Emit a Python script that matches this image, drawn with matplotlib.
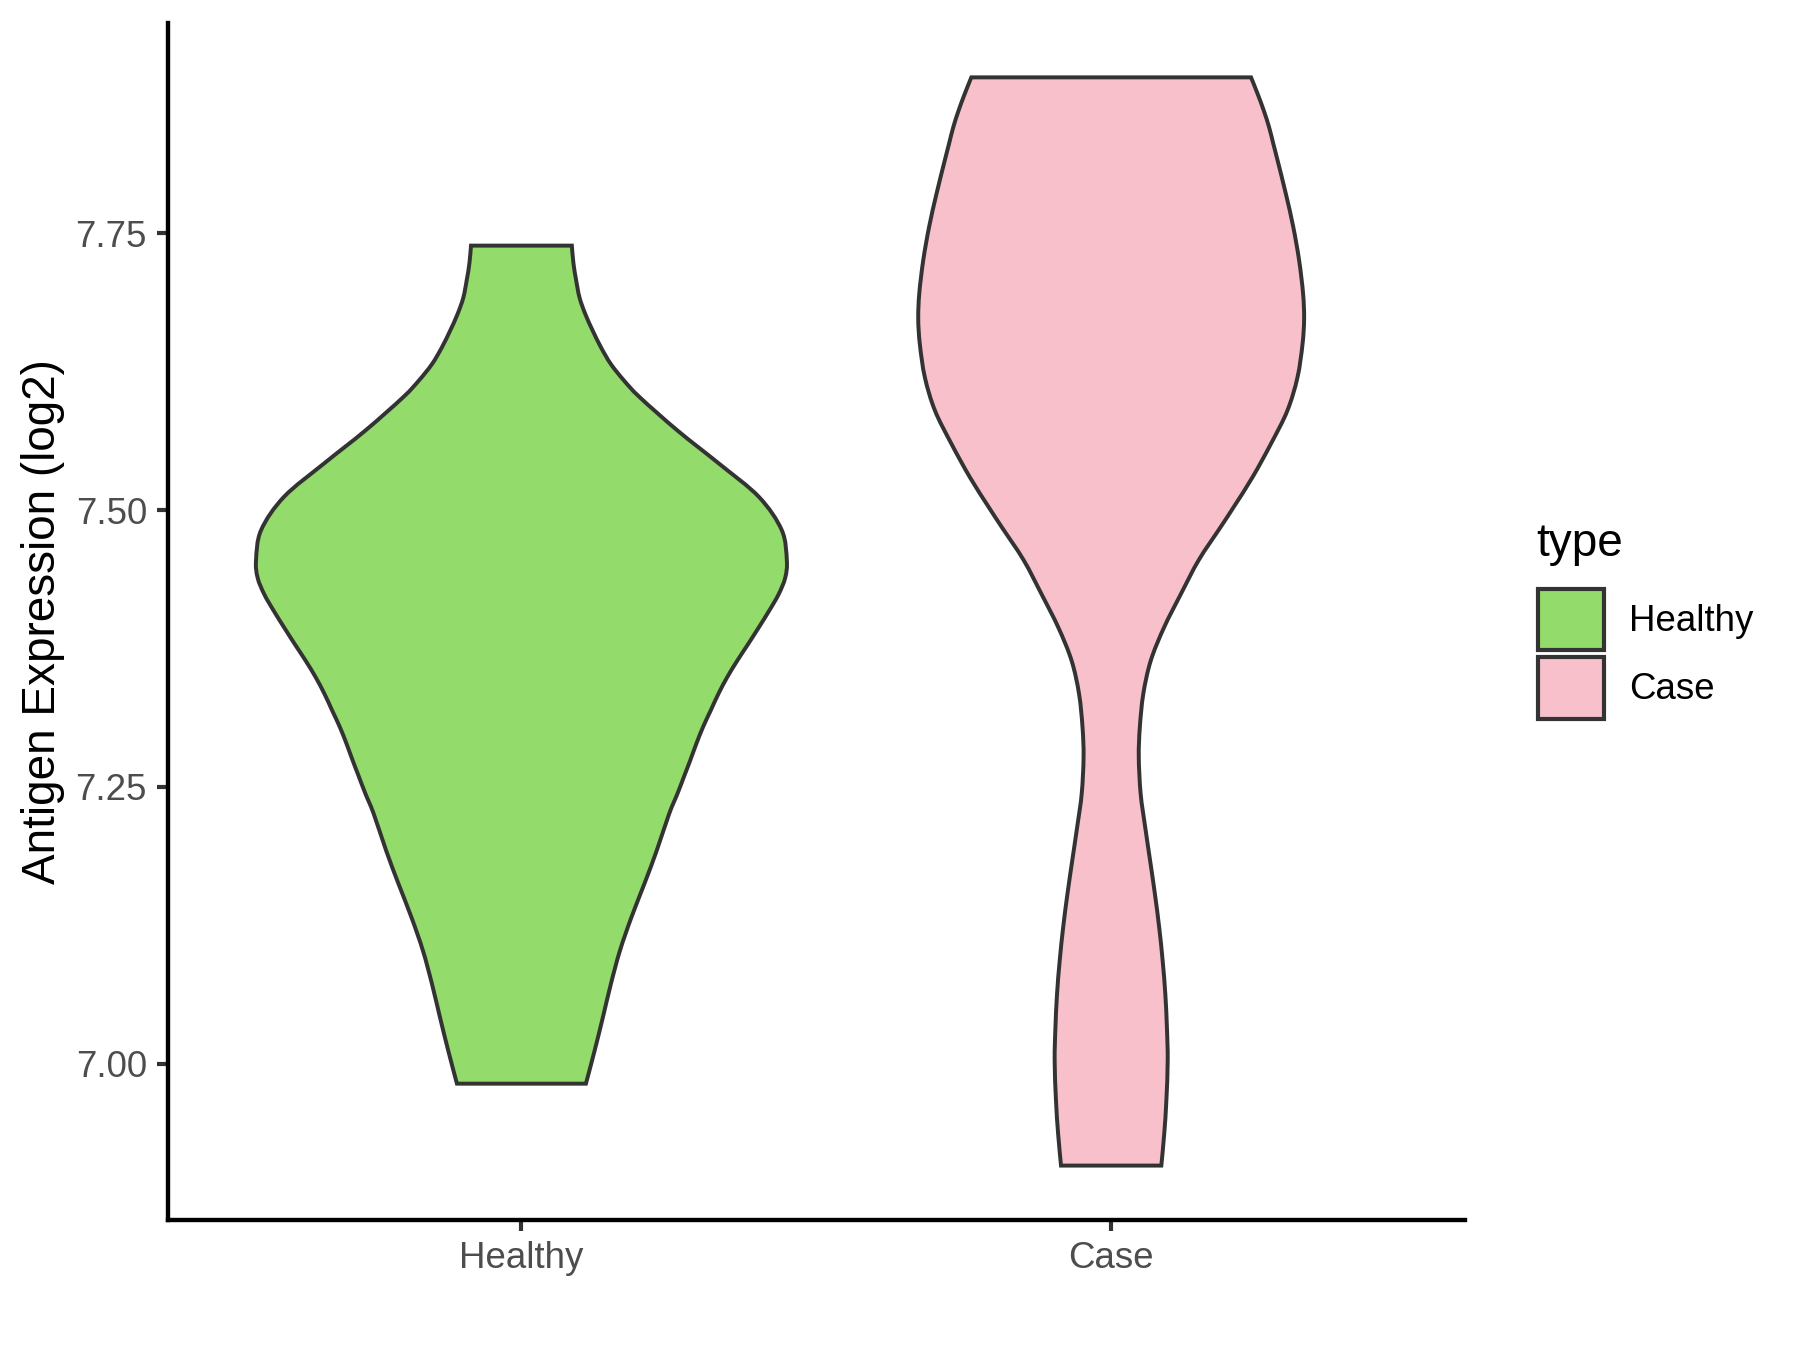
import numpy as np
import matplotlib
matplotlib.use("Agg")
import matplotlib.pyplot as plt
from matplotlib.patches import Patch, PathPatch
from matplotlib.path import Path

plt.rcParams["font.family"] = ["Liberation Sans", "DejaVu Sans"]

# Groups and fills
groups = ["Healthy", "Case"]
fills = ["#93DB6A", "#F7C0CB"]

# Violin density profiles (value, relative density)
healthy_y = [7.739, 7.723, 7.708, 7.692, 7.677, 7.662, 7.647, 7.632, 7.617, 7.602,
             7.572, 7.542, 7.512, 7.482, 7.455, 7.439, 7.424, 7.409, 7.394, 7.379,
             7.364, 7.349, 7.334, 7.319, 7.304, 7.289, 7.274, 7.259, 7.244, 7.226,
             7.192, 7.163, 7.132, 7.102, 7.072, 7.042, 7.012, 6.982]
healthy_dens = [0.190, 0.196, 0.206, 0.219, 0.241, 0.269, 0.300, 0.337, 0.387, 0.446,
                0.588, 0.745, 0.895, 0.981, 1.000, 0.994, 0.969, 0.933, 0.894, 0.854,
                0.813, 0.775, 0.742, 0.713, 0.684, 0.659, 0.636, 0.612, 0.588, 0.557,
                0.509, 0.464, 0.414, 0.371, 0.337, 0.307, 0.276, 0.243]

case_y = [7.891, 7.876, 7.861, 7.846, 7.831, 7.816, 7.786, 7.756, 7.726, 7.696,
          7.673, 7.650, 7.620, 7.590, 7.560, 7.530, 7.503, 7.485, 7.455, 7.424,
          7.394, 7.364, 7.334, 7.304, 7.277, 7.244, 7.214, 7.183, 7.153, 7.123,
          7.093, 7.063, 7.033, 7.003, 6.967, 6.937, 6.908]
case_dens = [0.527, 0.552, 0.575, 0.595, 0.611, 0.627, 0.658, 0.686, 0.708, 0.723,
             0.727, 0.721, 0.702, 0.664, 0.602, 0.533, 0.462, 0.413, 0.330, 0.262,
             0.199, 0.149, 0.121, 0.108, 0.104, 0.111, 0.128, 0.147, 0.165, 0.181,
             0.194, 0.204, 0.210, 0.213, 0.208, 0.200, 0.189]

y_ticks = [7.00, 7.25, 7.50, 7.75]

profiles = [(healthy_y, healthy_dens), (case_y, case_dens)]


# Smooth outline through the read points (Catmull-Rom as cubic beziers)
def smooth_segments(pts):
  verts = []
  n = len(pts)
  for i in range(n - 1):
    p0 = pts[max(i - 1, 0)]
    p1 = pts[i]
    p2 = pts[i + 1]
    p3 = pts[min(i + 2, n - 1)]
    c1 = p1 + (p2 - p0) / 6.0
    c2 = p2 - (p3 - p1) / 6.0
    verts.extend([c1, c2, p2])
  return verts


fig = plt.figure(figsize=(6, 4.5), dpi=300)
ax = fig.add_axes([0.0931, 0.0963, 0.7208, 0.8867])

# Draw violins, max half width 0.45 like ggplot's width 0.9
for i, (ys, ds) in enumerate(profiles):
  ys = np.array(ys)
  hw = np.array(ds) * 0.45
  pos = i + 1
  left = np.column_stack([pos - hw, ys])
  right = np.column_stack([pos + hw, ys])[::-1]
  verts = [left[0]]
  codes = [Path.MOVETO]
  seg = smooth_segments(left)
  verts += seg
  codes += [Path.CURVE4] * len(seg)
  verts.append(right[0])
  codes.append(Path.LINETO)
  seg = smooth_segments(right)
  verts += seg
  codes += [Path.CURVE4] * len(seg)
  verts.append(left[0])
  codes.append(Path.CLOSEPOLY)
  patch = PathPatch(Path(verts, codes), facecolor=fills[i], edgecolor="#333333",
                    linewidth=0.95, zorder=2)
  ax.add_patch(patch)

# Axis ranges with ggplot-like expansion
lo = min(min(healthy_y), min(case_y))
hi = max(max(healthy_y), max(case_y))
pad = (hi - lo) * 0.05
ax.set_ylim(lo - pad, hi + pad)
ax.set_xlim(0.4, 2.6)

ax.set_xticks([1, 2])
ax.set_xticklabels(groups)
ax.set_yticks(y_ticks)
ax.set_yticklabels(["%.2f" % t for t in y_ticks])
ax.tick_params(axis="both", length=2.75, width=1.0, color="#333333",
               labelsize=8.8, labelcolor="#4D4D4D", pad=2.2)

for side in ["top", "right"]:
  ax.spines[side].set_visible(False)
for side in ["left", "bottom"]:
  ax.spines[side].set_linewidth(1.05)
  ax.spines[side].set_color("black")

ax.set_ylabel("Antigen Expression (log2)", fontsize=11, color="black", labelpad=2.6)

# Legend (title drawn separately to match ggplot spacing)
fig.text(0.8533, 0.5881, "type", fontsize=11, ha="left", va="baseline")
handles = [Patch(facecolor=fills[i], edgecolor="#333333", linewidth=1.0, label=g)
           for i, g in enumerate(groups)]
leg = fig.legend(handles=handles, loc="center left",
                 bbox_to_anchor=(0.8546, 0.5157), frameon=False, fontsize=8.8,
                 handlelength=1.78, handleheight=2.2, handletextpad=0.7,
                 labelspacing=0.19, borderpad=0, borderaxespad=0)

fig.savefig("out.png", dpi=300)
